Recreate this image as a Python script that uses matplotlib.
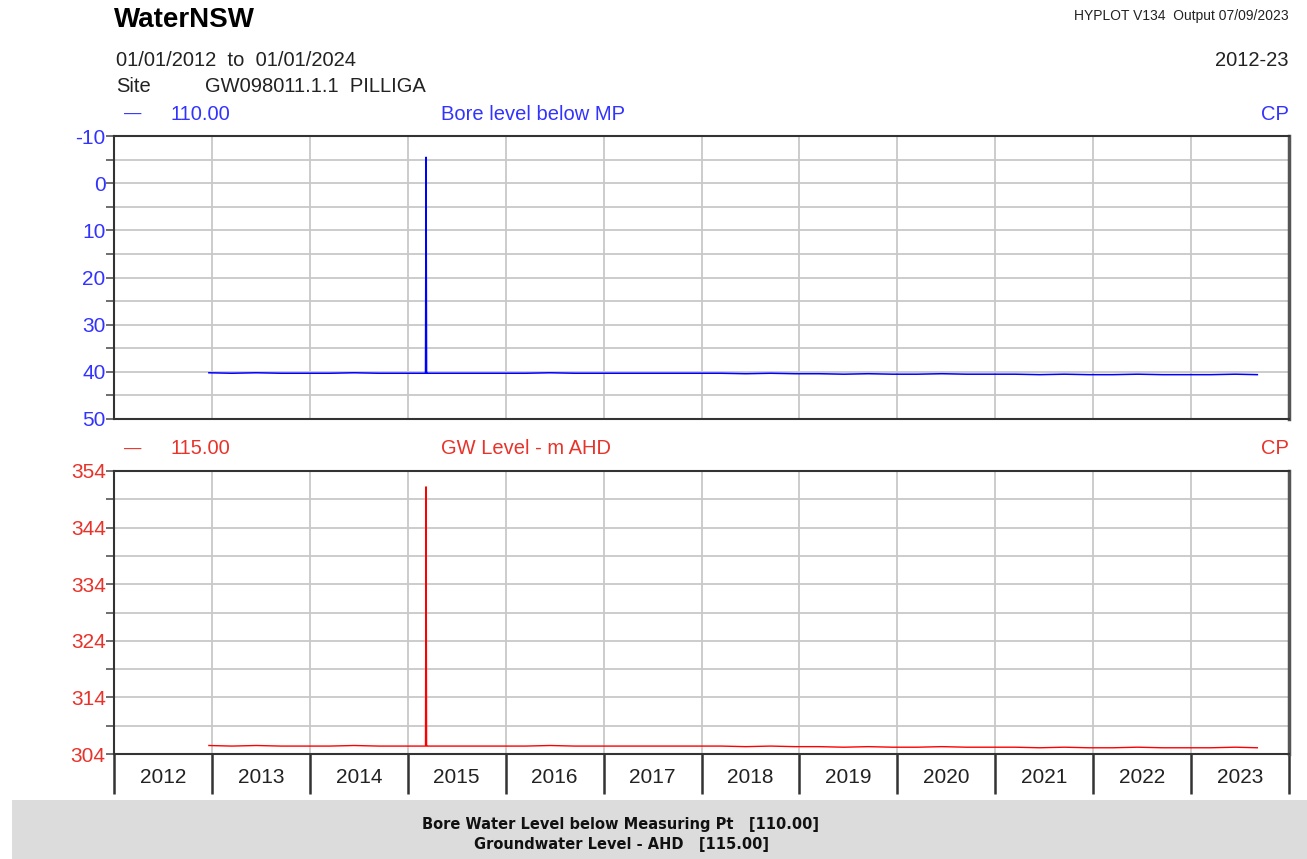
import pandas as pd
import numpy as np
import matplotlib
matplotlib.use('Agg')
import matplotlib.pyplot as plt
import matplotlib.dates as mdates
from matplotlib.patches import Rectangle

plt.rcParams['font.family'] = ['Liberation Sans', 'DejaVu Sans']
plt.rcParams['axes.unicode_minus'] = False

# fechas de lectura (trimestral + pico de marzo 2015)
fechas = ['2012-12-20',
          '2013-03-15', '2013-06-15', '2013-09-15', '2013-12-15',
          '2014-03-15', '2014-06-15', '2014-09-15', '2014-12-15',
          '2015-03-08', '2015-03-10', '2015-03-12',
          '2015-03-15', '2015-06-15', '2015-09-15', '2015-12-15',
          '2016-03-15', '2016-06-15', '2016-09-15', '2016-12-15',
          '2017-03-15', '2017-06-15', '2017-09-15', '2017-12-15',
          '2018-03-15', '2018-06-15', '2018-09-15', '2018-12-15',
          '2019-03-15', '2019-06-15', '2019-09-15', '2019-12-15',
          '2020-03-15', '2020-06-15', '2020-09-15', '2020-12-15',
          '2021-03-15', '2021-06-15', '2021-09-15', '2021-12-15',
          '2022-03-15', '2022-06-15', '2022-09-15', '2022-12-15',
          '2023-03-15', '2023-06-15', '2023-09-05']

# nivel bajo punto de medicion (m)
bore = [40.2,
        40.3, 40.2, 40.3, 40.3,
        40.3, 40.2, 40.3, 40.3,
        40.3, -5.5, 40.3,
        40.3, 40.3, 40.3, 40.3,
        40.3, 40.2, 40.3, 40.3,
        40.3, 40.3, 40.3, 40.3,
        40.3, 40.4, 40.3, 40.4,
        40.4, 40.5, 40.4, 40.5,
        40.5, 40.4, 40.5, 40.5,
        40.5, 40.6, 40.5, 40.6,
        40.6, 40.5, 40.6, 40.6,
        40.6, 40.5, 40.6]

# nivel freatico m AHD
gw = [305.5,
      305.4, 305.5, 305.4, 305.4,
      305.4, 305.5, 305.4, 305.4,
      305.4, 351.2, 305.4,
      305.4, 305.4, 305.4, 305.4,
      305.4, 305.5, 305.4, 305.4,
      305.4, 305.4, 305.4, 305.4,
      305.4, 305.3, 305.4, 305.3,
      305.3, 305.2, 305.3, 305.2,
      305.2, 305.3, 305.2, 305.2,
      305.2, 305.1, 305.2, 305.1,
      305.1, 305.2, 305.1, 305.1,
      305.1, 305.2, 305.1]

years = list(range(2012, 2024))

fechas = pd.to_datetime(fechas)
W, H = 1307, 859
fig = plt.figure(figsize=(W / 100, H / 100), dpi=100)

def fx(px):
    return px / W

def fy(py):
    return 1 - py / H

ax1 = fig.add_axes([fx(114), fy(419), fx(1289 - 114), (419 - 136) / H])
ax2 = fig.add_axes([fx(114), fy(754), fx(1289 - 114), (754 - 471) / H])

xmin = pd.Timestamp('2012-01-01')
xmax = pd.Timestamp('2024-01-01')
azul_txt = '#3333ff'
rojo_txt = '#e8332a'
fs = 14.5

def style_ax(ax, col):
    ax.set_xlim(xmin, xmax)
    ax.xaxis.set_major_locator(mdates.YearLocator())
    ax.grid(True, which='major', axis='x', color='#c8c8c8', lw=1.3)
    ax.grid(True, which='both', axis='y', color='#c8c8c8', lw=1.3)
    for s in ['top', 'bottom', 'left']:
        ax.spines[s].set_color('#333333')
        ax.spines[s].set_linewidth(1.5)
    ax.spines['right'].set_color('#555555')
    ax.spines['right'].set_linewidth(2.5)
    ax.tick_params(axis='y', which='both', direction='out', left=True, right=False,
                   colors='#555555', labelcolor=col, labelsize=15, width=1.2, pad=0)
    ax.tick_params(axis='y', which='major', length=6)
    ax.tick_params(axis='y', which='minor', length=6)
    ax.set_axisbelow(True)

ax1.plot(fechas, bore, color='#0000ff', lw=1.1)
style_ax(ax1, azul_txt)
ax1.set_ylim(50, -10)
ax1.set_yticks(np.arange(-10, 51, 10))
ax1.set_yticks(np.arange(-5, 50, 10), minor=True)
ax1.tick_params(axis='x', which='both', bottom=False, labelbottom=False)

ax2.plot(fechas, gw, color='#ff0000', lw=1.0)
style_ax(ax2, rojo_txt)
ax2.set_ylim(304, 354)
ax2.set_yticks(np.arange(304, 355, 10))
ax2.set_yticks(np.arange(309, 354, 10), minor=True)
# etiquetas de anio centradas
mid = [pd.Timestamp(f'{y}-07-02') for y in years]
ax2.set_xticks(mid, minor=True)
ax2.set_xticklabels([str(y) for y in years], minor=True)
ax2.tick_params(axis='x', which='major', direction='out', length=29, width=1.8,
                color='#333333', labelbottom=False)
ax2.tick_params(axis='x', which='minor', length=0, labelsize=15, pad=10,
                labelcolor='#222222')

# cabecera
fig.text(fx(114), fy(20), 'WaterNSW', fontsize=20, fontweight='bold', va='center')
fig.text(fx(1289), fy(16), 'HYPLOT V134  Output 07/09/2023', fontsize=10, ha='right',
         va='center', color='#222222')
fig.text(fx(116), fy(60), '01/01/2012  to  01/01/2024', fontsize=fs, va='center',
         color='#222222')
fig.text(fx(1289), fy(60), '2012-23', fontsize=fs, ha='right', va='center', color='#222222')
fig.text(fx(116), fy(87), 'Site', fontsize=fs, va='center', color='#222222')
fig.text(fx(205), fy(87), 'GW098011.1.1  PILLIGA', fontsize=fs, va='center', color='#222222')

for yy, col, num, nombre in [(114, azul_txt, '110.00', 'Bore level below MP'),
                             (449, rojo_txt, '115.00', 'GW Level - m AHD')]:
    fig.text(fx(124), fy(yy), '—', fontsize=12.5, va='center', color=col)
    fig.text(fx(170), fy(yy), num, fontsize=fs, va='center', color=col)
    fig.text(fx(441), fy(yy), nombre, fontsize=fs, va='center', color=col)
    fig.text(fx(1289), fy(yy), 'CP', fontsize=fs, ha='right', va='center', color=col)

# pie gris
fig.patches.append(Rectangle((fx(12), 0), fx(W - 12), 59 / H, transform=fig.transFigure,
                             facecolor='#dcdcdc', edgecolor='none', zorder=0))
fig.text(fx(621), fy(825), 'Bore Water Level below Measuring Pt   [110.00]',
         family='DejaVu Sans', fontweight='bold', fontsize=10.5, ha='center', va='center',
         color='#111111')
fig.text(fx(621), fy(845), 'Groundwater Level - AHD   [115.00]',
         family='DejaVu Sans', fontweight='bold', fontsize=10.5, ha='center', va='center',
         color='#111111')

fig.savefig('out.png', dpi=100)
